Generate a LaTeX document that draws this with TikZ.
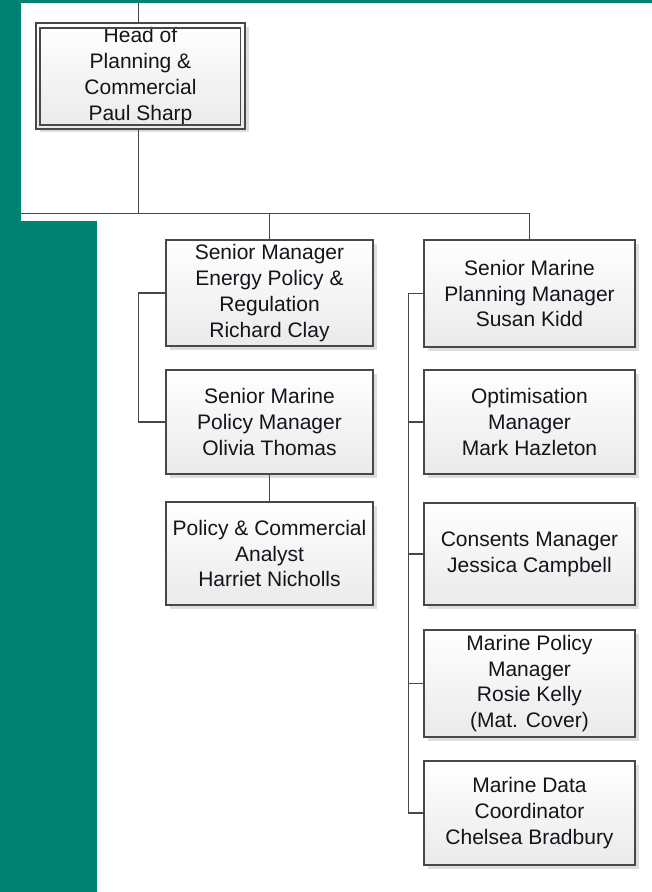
\documentclass[tikz,border=0pt]{standalone}
\usepackage{fontspec}
\setmainfont{Liberation Sans}
\usetikzlibrary{shadows}
\definecolor{teal1}{RGB}{0,130,114}
\definecolor{linec}{RGB}{72,72,72}
\definecolor{boxbot}{RGB}{234,234,234}
\definecolor{txt}{RGB}{20,20,28}
\begin{document}
\begin{tikzpicture}[x=1pt,y=-1pt,
  box/.style={draw=linec,line width=1.7pt,top color=white,bottom color=boxbot,
    align=center,font=\fontsize{21}{25.8}\selectfont,text=txt,inner sep=0pt,
    drop shadow={shadow xshift=3.5pt,shadow yshift=-3.5pt,fill=black!25,opacity=0.5}},
  lbox/.style={box,minimum width=207pt},
  rbox/.style={box,minimum width=211pt},
  conn/.style={draw=linec,line width=1.8pt}]
\useasboundingbox (0,0) rectangle (652,892);
% background
\fill[teal1] (0,0) rectangle (652,892);
\fill[white] (21,3) rectangle (652,220.5);
\fill[white] (97,220) rectangle (652,892);

% coordinates
\coordinate (ctop) at (138.5,3);
\coordinate (busL) at (21,213.5);
\coordinate (spL) at (138.5,0);
\coordinate (spR) at (408.5,0);

% head
\node[box,minimum width=209pt,minimum height=105.5pt] (head) at (140.5,76)
  {Head of\\Planning \&\\Commercial\\Paul Sharp};
\draw[draw=linec,line width=1.7pt] ([shift={(4.5,5.5)}]head.north west) rectangle ([shift={(-5.5,-4.5)}]head.south east);

% left column
\node[lbox,minimum height=106pt] (L1) at (269.5,293)
  {Senior Manager\\Energy Policy \&\\Regulation\\Richard Clay};
\node[lbox,minimum height=104pt] (L2) at (269.5,422)
  {Senior Marine\\Policy Manager\\Olivia Thomas};
\node[lbox,minimum height=103pt] (L3) at (269.5,553.5)
  {Policy \& Commercial\\Analyst\\Harriet Nicholls};

% right column
\node[rbox,minimum height=107pt] (R1) at (529.5,293.5)
  {Senior Marine\\Planning Manager\\Susan Kidd};
\node[rbox,minimum height=104pt] (R2) at (529.5,422)
  {Optimisation\\Manager\\Mark Hazleton};
\node[rbox,minimum height=102pt] (R3) at (529.5,554)
  {Consents Manager\\Jessica Campbell};
\node[rbox,minimum height=107pt] (R4) at (529.5,683.5)
  {Marine Policy\\Manager\\Rosie Kelly\\(Mat. Cover)};
\node[rbox,minimum height=104pt] (R5) at (529.5,813)
  {Marine Data\\Coordinator\\Chelsea Bradbury};

% connectors
\draw[conn] (ctop) -- (ctop |- head.north);
\draw[conn] (ctop |- head.south) -- (ctop |- busL);
\draw[conn] (busL) -- (busL -| R1.north);
\draw[conn] (L1.north) -- (L1.north |- busL);
\draw[conn] (R1.north) -- (R1.north |- busL);
\draw[conn] (L1.west) -- (L1.west -| spL) -- (L2.west -| spL) -- (L2.west);
\draw[conn] (L2.south) -- (L3.north);
\draw[conn] (R1.west) -- (R1.west -| spR) -- (R5.west -| spR) -- (R5.west);
\draw[conn] (R2.west -| spR) -- (R2.west);
\draw[conn] (R3.west -| spR) -- (R3.west);
\draw[conn] (R4.west -| spR) -- (R4.west);
\end{tikzpicture}
\end{document}
